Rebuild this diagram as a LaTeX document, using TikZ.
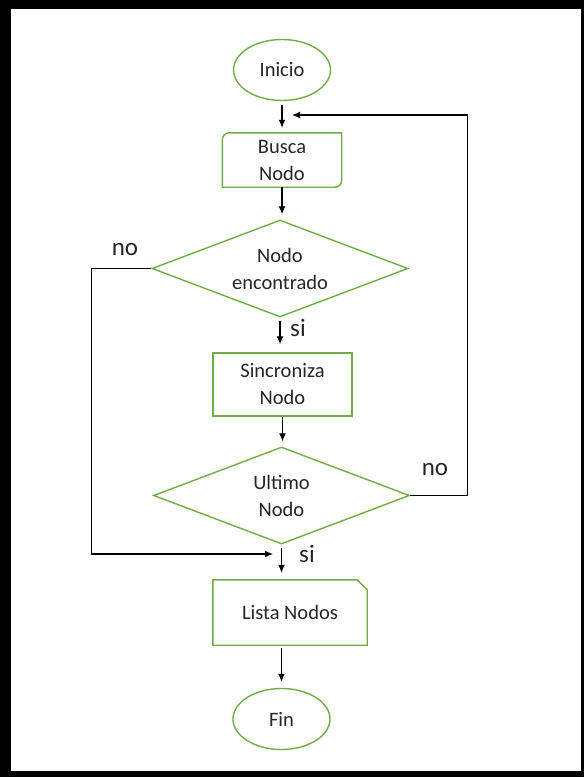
\documentclass[tikz,border=0pt]{standalone}
\usepackage{fontspec}
\setmainfont{Carlito}
\usetikzlibrary{arrows.meta,shapes.geometric,calc}
\definecolor{flowgreen}{RGB}{112,173,71}

\begin{document}
\begin{tikzpicture}[x=1pt, y=-1pt,
        every node/.style={font=\fontsize{20.5}{27}\selectfont, align=center, inner sep=0pt, text=black!85},
        terminal/.style={ellipse, draw=flowgreen, line width=1.4pt, minimum width=97pt, minimum height=61pt},
        process/.style={rectangle, draw=flowgreen, line width=1.4pt},
        decision/.style={diamond, draw=flowgreen, line width=1.4pt, aspect=2.65, minimum width=256pt, minimum height=97pt},
        outline/.style={draw=flowgreen, line width=1.4pt},
        flow/.style={-{Latex[length=8pt,width=7pt]}, line width=1.3pt},
        branchtext/.style={font=\fontsize{25}{30}\selectfont}]
                % page frame
                \fill[black] (0,0) rectangle (584,777);
                \fill[white] (11,9) rectangle (580.5,771);
                % boxes
                \node[terminal] (inicio) at (282,70) {Inicio};
                \node[minimum width=119pt, minimum height=54pt] (busca) at (282,160) {Busca\\Nodo};
                \node[decision] (encontrado) at (280,268.5) {Nodo\\encontrado};
                \node[process, minimum width=139pt, minimum height=63pt] (sincroniza) at (282.5,384.5) {Sincroniza\\Nodo};
                \node[decision] (ultimo) at (281.5,495.5) {Ultimo\\Nodo};
                \node[minimum width=154pt, minimum height=65pt] (lista) at (290,612.5) {Lista Nodos};
                \node[terminal] (fin) at (281.5,719) {Fin};
                \draw[outline] (busca.north east) -- ($(busca.south east)+(0,-7)$) arc (0:90:7)
                        -- (busca.south west) -- ($(busca.north west)+(0,7)$) arc (180:270:7) -- cycle;
                \draw[outline] (lista.north west) -- ($(lista.north east)+(-10,0)$) -- ($(lista.north east)+(0,10)$)
                        -- (lista.south east) -- (lista.south west) -- cycle;
                % branch labels
                \node[branchtext] (noleft) at (125,250) {no};
                \node[branchtext] (sitop) at (298,328) {si};
                \node[branchtext] (noright) at (435,470) {no};
                \node[branchtext] (sibottom) at (307,554) {si};
                \coordinate (merge) at (273,554);
                \coordinate (reentry) at (292,115);
                % arrows
                \draw[flow, shorten <=4pt, shorten >=5pt] (inicio.south) -- (busca.north);
                \draw[flow, shorten >=5pt] (busca.south) -- (busca.south |- encontrado.north);
                \draw[flow, shorten <=3pt, shorten >=8pt] (encontrado.south) -- (encontrado.south |- sincroniza.north);
                \draw[flow, shorten >=5pt] (sincroniza.south) -- (sincroniza.south |- ultimo.north);
                \draw[flow, shorten <=3pt, shorten >=7pt] (ultimo.south) -- (ultimo.south |- lista.north);
                \draw[flow, shorten <=3pt, shorten >=6pt] (fin.north |- lista.south) -- (fin.north);
                \draw[flow] (encontrado.west) -- ++(-60,0) |- (merge);
                \draw[flow] (ultimo.east) -- ++(57,0) |- (reentry);
        \end{tikzpicture}
\end{document}
